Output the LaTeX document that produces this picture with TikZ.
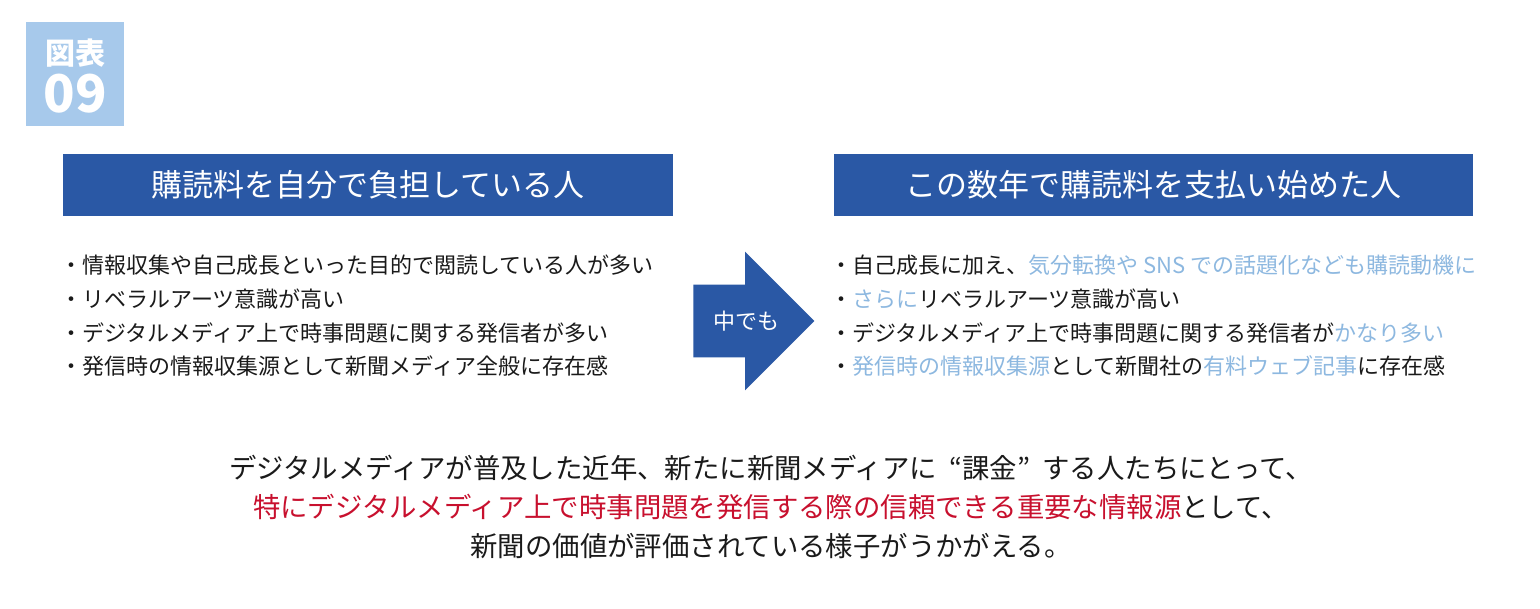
\documentclass[tikz,border=0pt]{standalone}
\usepackage{fontspec}
\setmainfont{Noto Sans CJK JP}
\usetikzlibrary{positioning,shapes.arrows}
\definecolor{navy}{HTML}{2A58A5}
\definecolor{paleblue}{HTML}{A7C9EB}
\definecolor{softblue}{HTML}{8DB8E0}
\definecolor{inkred}{HTML}{C8102E}
\definecolor{ink}{HTML}{1A1A1A}
\newcommand{\softpart}[1]{\textcolor{softblue}{#1}}
\newcommand{\redpart}[1]{\textcolor{inkred}{#1}}

\begin{document}
\begin{tikzpicture}[
    x=0.5pt, y=-0.5pt,
    node distance=5.5pt,
    every node/.style={inner sep=0pt, text=ink},
    badge/.style={fill=paleblue, minimum width=49pt, minimum height=52pt},
    badgetext/.style={text=white},
    header/.style={fill=navy, minimum height=31pt, text=white, font=\fontsize{15.5}{16}\selectfont},
    item/.style={anchor=west, font=\fontsize{11}{12}\selectfont, text height=9.7pt, text depth=1.3pt},
    bigarrow/.style={single arrow, fill=navy, minimum height=60.5pt, minimum width=69pt,
        inner xsep=4pt, inner ysep=12.5pt, text height=9.7pt, text depth=1.3pt,
        single arrow head extend=16.5pt},
    arrowtext/.style={text=white, font=\fontsize{11}{12}\selectfont},
    summary/.style={font=\fontsize{13.7}{14}\selectfont, text height=12pt, text depth=1.7pt}
]
\path[fill=white] (0,0) rectangle (1540,609);
\useasboundingbox (0,0) rectangle (1540,609);

% badge
\node[badge] (badge) at (75,74) {};
\node[badgetext, font=\bfseries\fontsize{15}{15}\selectfont] (badgetitle) at (75,53) {図表};
\node[badgetext, font=\bfseries\fontsize{26}{26}\selectfont] (badgenum) at (75,94) {09};

% headers
\node[header, minimum width=305pt] (lefthead) at (368,185) {購読料を自分で負担している人};
\node[header, minimum width=319.5pt] (righthead) at (1153.5,185) {この数年で購読料を支払い始めた人};

% left list
\node[item] (l1) at (60,265) {・情報収集や自己成長といった目的で閲読している人が多い};
\node[item, below=of l1.south west, anchor=north west] (l2) {・リベラルアーツ意識が高い};
\node[item, below=of l2.south west, anchor=north west] (l3) {・デジタルメディア上で時事問題に関する発信者が多い};
\node[item, below=of l3.south west, anchor=north west] (l4) {・発信時の情報収集源として新聞メディア全般に存在感};

% arrow
\node[bigarrow, anchor=tail] (arrow) at (693,321) {};
\node[arrowtext] (arrowlabel) at (746,321) {中でも};

% right list
\node[item] (r1) at (830,265) {・自己成長に加え、\softpart{気分転換や SNS での話題化なども購読動機に}};
\node[item, below=of r1.south west, anchor=north west] (r2) {・\softpart{さらに}リベラルアーツ意識が高い};
\node[item, below=of r2.south west, anchor=north west] (r3) {・デジタルメディア上で時事問題に関する発信者が\softpart{かなり多い}};
\node[item, below=of r3.south west, anchor=north west] (r4) {・\softpart{発信時の情報収集源}として新聞社の\softpart{有料ウェブ記事}に存在感};

% summary
\node[summary] (s1) at (771,468) {デジタルメディアが普及した近年、新たに新聞メディアに\hspace{0.45em}“課金”\hspace{0.45em}する人たちにとって、};
\node[summary, below=5.5pt of s1] (s2) {\redpart{特にデジタルメディア上で時事問題を発信する際の信頼できる重要な情報源}として、};
\node[summary, below=5.5pt of s2] (s3) {新聞の価値が評価されている様子がうかがえる。};
\end{tikzpicture}
\end{document}
